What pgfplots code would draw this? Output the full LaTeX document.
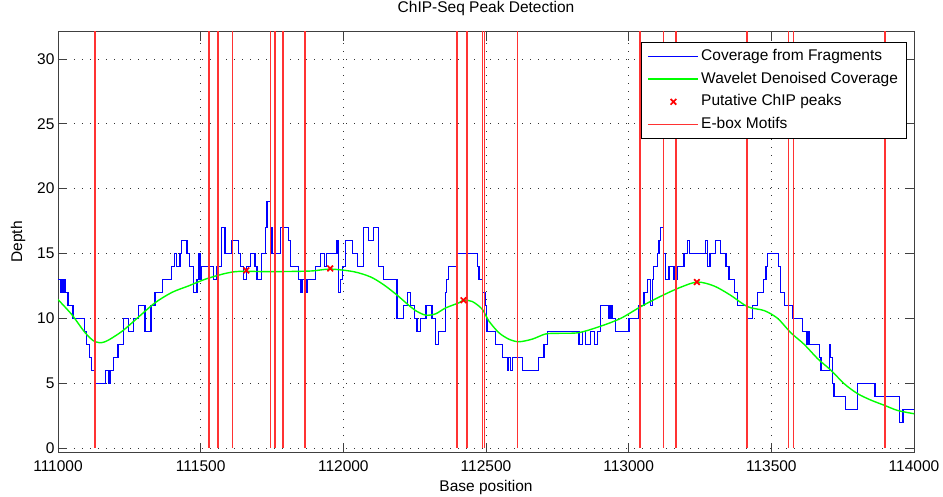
\documentclass[border=0pt]{standalone}
\usepackage{fontspec}
\setmainfont{Liberation Sans}
\usepackage{pgfplots}
\pgfplotsset{compat=1.18}
\usetikzlibrary{calc}

\newcommand{\chartfont}{\fontsize{15.5}{18}\selectfont}
\definecolor{eboxred}{RGB}{255,50,50}
\pgfplotsset{
    linelegend/.style={legend image code/.code={\draw[##1] (0pt,0pt) -- (50pt,0pt);}},
    peaklegend/.style={legend image code/.code={\draw[##1, only marks] plot coordinates {(25pt,0pt)};}},
}

\begin{document}
\begin{tikzpicture}
\begin{axis}[
    name=ax,
    scale only axis,
    width=856pt, height=420.3pt,
    xmin=111000, xmax=114000,
    ymin=-0.3, ymax=32.1,
    xtick={111000,111500,...,114000},
    ytick={0,5,...,30},
    scaled x ticks=false,
    scaled y ticks=false,
    /pgf/number format/fixed,
    /pgf/number format/1000 sep={},
    /pgf/number format/assume math mode=true,
    tick pos=both, tick align=inside,
    major tick length=9pt,
    tick style={black!75, line width=0.8pt},
    axis line style={black!75, line width=0.9pt},
    grid=major,
    major grid style={black!80, line width=0.8pt, dash pattern=on 1pt off 7pt},
    every tick label/.append style={font=\chartfont},
    xticklabel style={anchor=base, yshift=-19.7pt},
    title={ChIP-Seq Peak Detection},
    title style={at={(axis description cs:0.5,1)}, anchor=base, yshift=12.7pt, font=\chartfont},
    xlabel={Base position},
    xlabel style={at={(axis description cs:0.5,0)}, anchor=base, yshift=-39pt, font=\chartfont},
    ylabel={Depth},
    ylabel style={at={(axis description cs:-0.0467,0.5)}, anchor=center, font=\chartfont},
    legend cell align=left,
    linelegend,
    legend style={at={(rel axis cs:0.9915,0.976)}, anchor=north east,
        draw=black, line width=0.8pt, fill=white,
        inner xsep=6.4pt, inner ysep=4.75pt, row sep=3.7pt,
        font=\chartfont,
        nodes={inner sep=2pt, text height=11.5pt, text depth=3.5pt}},
]

% coverage from fragments (stairs)
\addplot[const plot, color=blue, line width=1.3pt] coordinates {
(111000,13)(111011,12)(111018,13)(111025,12)(111035,11)(111053,10)
(111092,9)(111100,8)(111110,7)(111118,6)(111130,5)(111167,6)(111176,5)
(111182,6)(111194,7)(111210,8)(111229,10)(111247,9)(111264,10)(111282,11)
(111305,9)(111326,11)(111340,12)(111366,13)(111399,14)(111408,15)(111415,14)
(111428,15)(111434,16)(111452,15)(111460,14)(111475,12)(111487,13)(111492,15)
(111498,13)(111504,14)(111545,13)(111557,14)(111574,17)(111585,15)(111610,16)
(111633,15)(111640,14)(111649,13)(111660,14)(111674,15)(111690,14)(111697,13)
(111714,15)(111726,17)(111732,19)(111744,17)(111750,15)(111779,17)(111808,16)
(111814,14)(111843,13)(111850,12)(111855,13)(111870,12)(111875,13)(111902,14)
(111919,15)(111935,14)(111940,15)(111978,16)(111983,12)(111990,13)(111998,14)
(112007,16)(112031,15)(112050,14)(112070,17)(112088,16)(112105,17)(112123,14)
(112140,13)(112188,10)(112212,11)(112225,12)(112235,11)(112250,10)(112258,9)
(112270,10)(112290,11)(112311,10)(112323,8)(112333,9)(112358,12)(112362,13)
(112368,14)(112400,15)(112469,14)(112475,13)(112487,12)(112498,11)(112502,10)
(112504,9)(112533,8)(112557,7)(112575,6)(112580,7)(112585,6)(112592,7)
(112627,6)(112685,7)(112703,8)(112715,9)(112826,8)(112838,9)(112849,8)
(112867,9)(112880,8)(112890,9)(112902,11)(112931,10)(112936,11)(112942,10)
(112955,9)(113001,10)(113036,11)(113054,12)(113066,13)(113077,11)(113083,13)
(113088,14)(113101,15)(113106,16)(113112,17)(113122,15)(113130,13)(113141,14)
(113159,13)(113171,14)(113194,15)(113206,16)(113212,15)(113270,16)(113276,14)
(113285,15)(113305,16)(113323,15)(113341,14)(113352,13)(113370,12)(113381,11)
(113417,10)(113434,11)(113452,12)(113473,13)(113481,14)(113487,15)(113524,14)
(113533,12)(113545,11)(113574,10)(113610,9)(113625,8)(113628,9)(113633,8)
(113668,7)(113674,6)(113703,8)(113708,7)(113715,5)(113720,4)(113761,3)
(113802,5)(113863,4)(113949,2)(113961,3)(114000,3)
};
\addlegendentry{Coverage from Fragments}

% wavelet denoised coverage
\addplot[smooth, color=green, line width=1.4pt] coordinates {
(111000,11.45)(111048,10.3)(111095,8.9)(111130,8.2)(111165,8.2)(111224,9.0)
(111282,10.1)(111340,11.2)(111399,12.0)(111457,12.5)(111527,13.1)(111621,13.6)
(111744,13.6)(111884,13.65)(111954,13.8)(112036,13.6)(112095,13.2)(112141,12.6)
(112188,11.8)(112235,10.9)(112253,10.6)(112288,10.25)(112323,10.35)(112358,10.8)
(112405,11.2)(112422,11.4)(112452,11.3)(112487,10.7)(112510,9.8)(112545,8.9)
(112580,8.4)(112615,8.2)(112662,8.4)(112709,8.8)(112754,8.85)(112825,8.9)
(112902,9.4)(112972,10.0)(113042,10.9)(113112,11.7)(113182,12.4)(113241,12.8)
(113299,12.5)(113356,11.8)(113417,10.9)(113475,10.6)(113522,10.0)(113568,8.9)
(113615,8.0)(113662,6.9)(113709,6.0)(113756,4.95)(113802,4.2)(113849,3.7)
(113896,3.3)(113943,2.9)(114000,2.65)
};
\addlegendentry{Wavelet Denoised Coverage}

% putative peaks
\addplot[only marks, mark=x, color=red, mark size=4pt, line width=1.7pt, peaklegend] coordinates {
(111660,13.7)(111954,13.85)(112421,11.4)(113239,12.8)
};
\addlegendentry{Putative ChIP peaks}

% E-box motifs
\addplot[color=eboxred, line width=1.5pt, unbounded coords=jump] coordinates {
(111130,0)(111130,40)(111130,nan)
(111529,0)(111529,40)(111529,nan)
(111560,0)(111560,40)(111560,nan)
(111612,0)(111612,40)(111612,nan)
(111744,0)(111744,40)(111744,nan)
(111761,0)(111761,40)(111761,nan)
(111788,0)(111788,40)(111788,nan)
(111866,0)(111866,40)(111866,nan)
(112399,0)(112399,40)(112399,nan)
(112434,0)(112434,40)(112434,nan)
(112487,0)(112487,40)(112487,nan)
(112494,0)(112494,40)(112494,nan)
(112611,0)(112611,40)(112611,nan)
(113040,0)(113040,40)(113040,nan)
(113122,0)(113122,40)(113122,nan)
(113165,0)(113165,40)(113165,nan)
(113414,0)(113414,40)(113414,nan)
(113561,0)(113561,40)(113561,nan)
(113578,0)(113578,40)(113578,nan)
(113896,0)(113896,40)(113896,nan)
(113899,0)(113899,40)
};
\addlegendentry{E-box Motifs}

\end{axis}
\pgfresetboundingbox
\path[use as bounding box] ($(ax.south west)+(-58pt,-44pt)$) rectangle ($(ax.north east)+(29pt,31.7pt)$);
\end{tikzpicture}
\end{document}
